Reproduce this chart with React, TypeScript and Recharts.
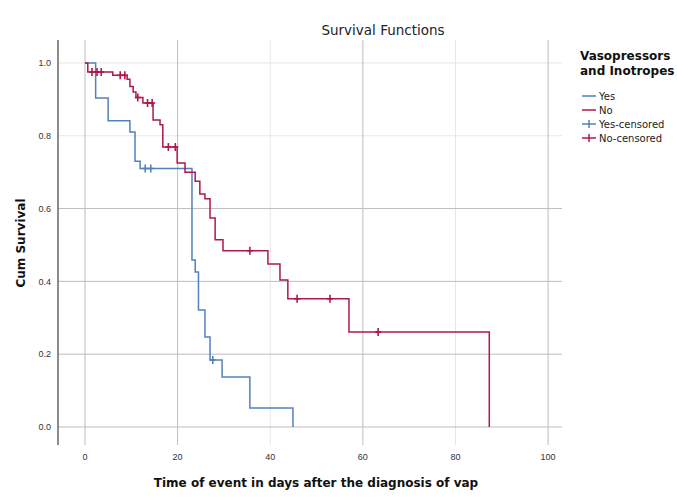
import React from 'react';
import { ComposedChart, Line, Scatter, XAxis, YAxis, CartesianGrid } from 'recharts';

const xTicks = [0, 20, 40, 60, 80, 100];
const yTicks = [0, 0.2, 0.4, 0.6, 0.8, 1.0];

// Yes group: step times and survival after each step
const yesTimes = [0, 2.3, 5.0, 9.7, 10.8, 11.9, 23.1, 23.8, 24.5, 25.9, 27.0, 29.6, 35.6, 44.9];
const yesSurvival = [1.0, 0.904, 0.841, 0.81, 0.73, 0.71, 0.459, 0.426, 0.321, 0.247, 0.184, 0.137, 0.052, 0.0];
const yesCensorTimes = [13.0, 14.2, 27.6];
const yesCensorSurvival = [0.71, 0.71, 0.184];

// No group
const noTimes = [0, 0.6, 6.0, 9.1, 9.7, 10.4, 11.0, 12.5, 14.7, 16.2, 16.8, 19.9, 21.6, 23.8, 24.8, 25.9, 27.0, 28.1, 29.8, 39.5, 42.1, 43.8, 57.0, 87.3];
const noSurvival = [1.0, 0.975, 0.966, 0.955, 0.935, 0.92, 0.905, 0.89, 0.843, 0.83, 0.769, 0.725, 0.7, 0.675, 0.64, 0.627, 0.574, 0.514, 0.484, 0.448, 0.404, 0.352, 0.261, 0.0];
const noCensorTimes = [1.5, 2.6, 3.5, 7.6, 8.6, 11.4, 13.5, 14.5, 18.0, 19.5, 35.6, 45.8, 52.9, 63.3];
const noCensorSurvival = [0.975, 0.975, 0.975, 0.966, 0.966, 0.905, 0.89, 0.89, 0.769, 0.769, 0.484, 0.352, 0.352, 0.261];

const legendLabels = ['Yes', 'No', 'Yes-censored', 'No-censored'];

// gridlines that show up strongly vs. faintly in the source picture
const strongX = [0, 20, 60, 100];
const faintX = [40, 80];
const strongY = [0, 0.2, 0.4, 0.6];
const faintY = [0.8, 1.0];

const BLUE = '#5282bb';
const RED = '#b0174c';

const X_MIN = -5.83;
const X_MAX = 103;
const Y_MIN = -0.0495;
const Y_MAX = 1.063;

const toPoints = (xs: number[], ys: number[]) => xs.map((x, i) => ({ x, y: ys[i] }));

const yesData = toPoints(yesTimes, yesSurvival);
const noData = toPoints(noTimes, noSurvival);
const yesCensored = toPoints(yesCensorTimes, yesCensorSurvival);
const noCensored = toPoints(noCensorTimes, noCensorSurvival);

// censor tick: small cross on the curve
const censorMark = (color: string) => (props: any) => {
  const { cx, cy } = props;
  return (
    <g>
      <line x1={cx} y1={cy - 4} x2={cx} y2={cy + 4} stroke={color} strokeWidth={1.6} />
      <line x1={cx - 3} y1={cy} x2={cx + 3} y2={cy} stroke={color} strokeWidth={1.6} />
    </g>
  );
};

const hGen = (vals: number[]) => ({ offset }: any) =>
  vals.map((t) => offset.top + (offset.height * (Y_MAX - t)) / (Y_MAX - Y_MIN));
const vGen = (vals: number[]) => ({ offset }: any) =>
  vals.map((t) => offset.left + (offset.width * (t - X_MIN)) / (X_MAX - X_MIN));

const tickFont = '"Liberation Sans", Arial, sans-serif';
const font = '"DejaVu Sans", sans-serif';

export default function App() {
  const legendColors = [BLUE, RED, BLUE, RED];
  return (
    <div style={{ position: 'absolute', left: 0, top: 0, width: 677, height: 498, background: '#fff', fontFamily: font, overflow: 'hidden' }}>
      <ComposedChart width={677} height={498} margin={{ top: 40, right: 115, bottom: 0, left: 0 }}>
        <CartesianGrid stroke="#e6e6e6" horizontalCoordinatesGenerator={hGen(faintY)} verticalCoordinatesGenerator={vGen(faintX)} />
        <CartesianGrid stroke="#bdbdbd" horizontalCoordinatesGenerator={hGen(strongY)} verticalCoordinatesGenerator={vGen(strongX)} />
        <XAxis
          type="number"
          dataKey="x"
          domain={[X_MIN, X_MAX]}
          ticks={xTicks}
          allowDataOverflow
          height={53}
          axisLine={false}
          tickLine={false}
          tickMargin={3}
          tick={{ fontSize: 9, fill: '#333', fontFamily: tickFont }}
        />
        <YAxis
          type="number"
          dataKey="y"
          domain={[Y_MIN, Y_MAX]}
          ticks={yTicks}
          allowDataOverflow
          width={58}
          axisLine={{ stroke: '#666', strokeWidth: 1.5 }}
          tickLine={false}
          tickMargin={1}
          tickFormatter={(v) => Number(v).toFixed(1)}
          tick={{ fontSize: 9, fill: '#333', fontFamily: tickFont }}
        />
        <Line data={yesData} dataKey="y" type="stepAfter" stroke={BLUE} strokeWidth={1.5} dot={false} isAnimationActive={false} />
        <Line data={noData} dataKey="y" type="stepAfter" stroke={RED} strokeWidth={1.5} dot={false} isAnimationActive={false} />
        <Scatter data={yesCensored} dataKey="y" shape={censorMark(BLUE)} isAnimationActive={false} />
        <Scatter data={noCensored} dataKey="y" shape={censorMark(RED)} isAnimationActive={false} />
      </ComposedChart>

      <div style={{ position: 'absolute', left: 263, top: 21, width: 240, textAlign: 'center', fontSize: 13.5, lineHeight: '18px', color: '#222' }}>
        Survival Functions
      </div>
      <div style={{ position: 'absolute', left: 56, top: 475, width: 520, textAlign: 'center', fontSize: 12, fontWeight: 'bold', lineHeight: '16px', color: '#111' }}>
        Time of event in days after the diagnosis of vap
      </div>
      <div style={{ position: 'absolute', left: 21 - 70, top: 243 - 8, width: 140, textAlign: 'center', fontSize: 12, fontWeight: 'bold', lineHeight: '16px', color: '#111', transform: 'rotate(-90deg)' }}>
        Cum Survival
      </div>

      <div style={{ position: 'absolute', left: 580, top: 49, fontSize: 12, fontWeight: 'bold', lineHeight: '14.5px', color: '#111', whiteSpace: 'nowrap' }}>
        Vasopressors<br />and Inotropes
      </div>
      {legendLabels.map((label, i) => (
        <div key={label} style={{ position: 'absolute', left: 582, top: 89 + i * 14, height: 14, display: 'flex', alignItems: 'center', fontSize: 10, color: '#222', whiteSpace: 'nowrap' }}>
          <svg width={14} height={12} style={{ marginRight: 3 }}>
            <line x1={0} y1={6} x2={14} y2={6} stroke={legendColors[i]} strokeWidth={1.5} />
            {i >= 2 && <line x1={7} y1={2} x2={7} y2={10} stroke={legendColors[i]} strokeWidth={1.5} />}
          </svg>
          {label}
        </div>
      ))}
    </div>
  );
}
